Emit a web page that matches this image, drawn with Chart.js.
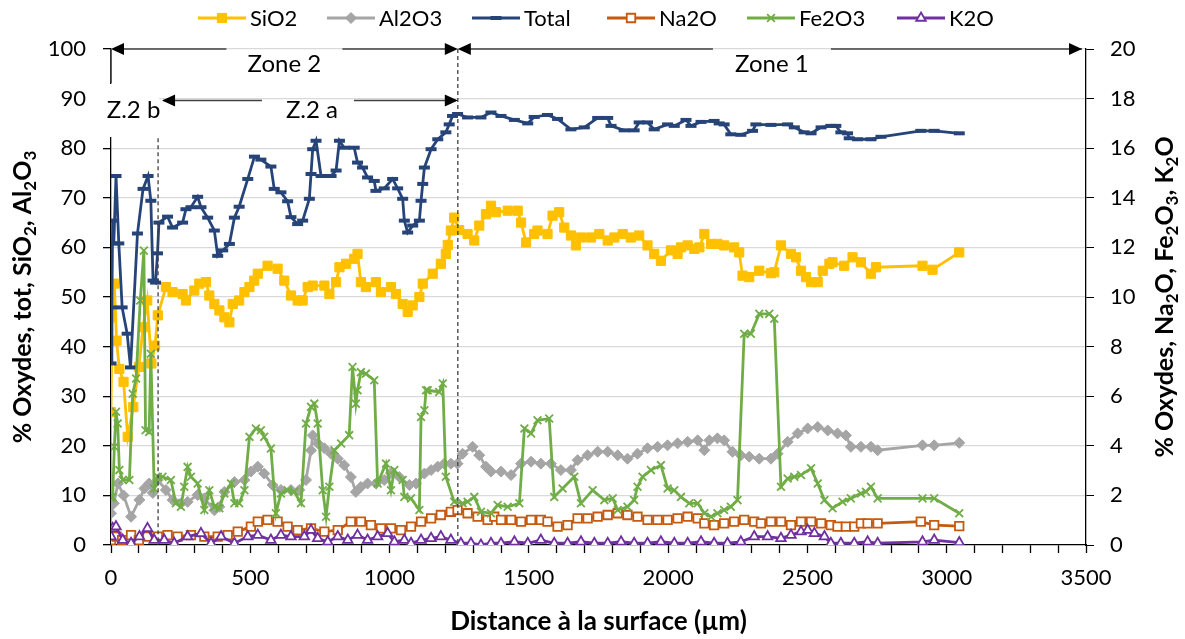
<!DOCTYPE html>
<html>
<head>
<meta charset="utf-8">
<title>Profils d'oxydes</title>
<script src="https://cdn.jsdelivr.net/npm/chart.js@4.4.1/dist/chart.umd.min.js"></script>
<style>
  html, body { margin: 0; padding: 0; background: #fff; }
  #wrap { width: 1185px; height: 639px; position: relative; }
</style>
</head>
<body>
<div id="wrap"><canvas id="chart"></canvas></div>
<script>
// distance (µm), % oxyde
var sio2 = [[0,26.8],[4,45.9],[12,52.7],[20,41.2],[30,35.5],[45,32.9],[60,21.8],[80,27.8],[100,35.9],[115,43.9],[130,49.3],[145,36.6],[158,40.2],[168,46.3],[197,52.0],[221,51.0],[257,50.6],[269,49.3],[299,51.3],[317,52.7],[341,53.0],[353,50.3],[371,48.6],[389,47.3],[407,45.9],[425,44.9],[437,48.6],[460,49.3],[479,51.0],[497,52.0],[514,53.3],[527,54.7],[562,56.3],[598,55.7],[622,53.3],[646,50.3],[670,49.3],[688,49.3],[706,52.0],[724,52.3],[766,52.3],[784,50.6],[808,53.0],[820,56.0],[844,56.7],[873,57.7],[885,58.7],[897,53.0],[915,52.0],[951,53.0],[969,51.0],[1005,52.0],[1023,50.6],[1047,48.6],[1065,47.0],[1083,48.3],[1107,50.0],[1119,52.7],[1155,54.7],[1184,56.7],[1202,58.7],[1209,60.5],[1220,63.4],[1232,66.0],[1250,63.5],[1280,62.7],[1304,61.4],[1322,64.4],[1346,66.7],[1364,68.4],[1382,67.1],[1424,67.4],[1460,67.4],[1472,65.0],[1490,61.0],[1519,62.7],[1531,63.4],[1567,62.7],[1585,66.4],[1609,67.1],[1627,64.0],[1651,62.4],[1669,60.4],[1687,62.0],[1723,62.0],[1753,62.7],[1783,61.4],[1807,62.0],[1837,62.7],[1866,62.0],[1896,62.4],[1926,60.4],[1950,58.7],[1974,57.3],[2010,59.4],[2034,58.7],[2046,60.0],[2070,60.4],[2094,59.7],[2112,60.0],[2130,62.7],[2154,60.7],[2177,60.7],[2201,60.4],[2237,60.0],[2255,59.0],[2267,54.3],[2291,54.0],[2327,55.3],[2369,54.8],[2381,55.0],[2405,60.4],[2441,58.7],[2459,58.0],[2477,55.3],[2495,54.0],[2513,53.0],[2537,53.0],[2555,55.3],[2579,56.7],[2590,57.0],[2632,56.3],[2662,58.0],[2692,57.0],[2728,54.7],[2746,56.0],[2913,56.3],[2949,55.5],[3045,59.0]];

var al2o3 = [[0,6.4],[10,8.4],[25,12.4],[45,10.0],[72,5.7],[102,9.1],[120,11.4],[137,12.4],[150,10.5],[168,13.1],[197,11.1],[221,9.1],[251,8.4],[275,8.7],[311,10.1],[335,9.4],[371,7.0],[389,7.7],[407,10.7],[443,12.7],[479,13.1],[502,14.8],[527,15.8],[550,14.4],[580,12.1],[610,11.1],[646,11.1],[676,11.1],[700,13.1],[718,19.1],[724,22.1],[742,20.5],[766,19.5],[790,18.4],[814,17.4],[837,16.1],[861,13.7],[879,10.7],[897,11.7],[921,12.4],[951,12.4],[981,13.1],[1005,14.5],[1035,13.7],[1071,12.1],[1095,12.4],[1125,14.4],[1149,15.1],[1173,15.8],[1196,16.4],[1220,16.4],[1244,16.4],[1262,18.4],[1298,19.8],[1322,18.1],[1346,15.8],[1364,14.8],[1400,14.8],[1436,14.1],[1472,16.4],[1508,16.8],[1543,16.4],[1579,16.4],[1615,15.1],[1651,15.1],[1675,17.1],[1711,18.1],[1747,18.8],[1783,18.8],[1819,18.1],[1854,17.4],[1890,18.4],[1926,19.5],[1962,19.8],[1998,20.1],[2034,20.5],[2070,20.8],[2106,21.1],[2130,19.1],[2148,21.1],[2177,21.5],[2201,21.1],[2231,18.8],[2261,18.1],[2291,17.8],[2327,17.4],[2369,17.4],[2393,18.4],[2429,20.8],[2465,22.5],[2501,23.5],[2537,23.8],[2573,23.1],[2608,22.5],[2638,22.1],[2656,19.8],[2692,19.8],[2728,19.8],[2752,19.1],[2913,20.1],[2955,20.1],[3045,20.6]];

var total = [[0,36.6],[3,47.9],[6,65.4],[10,60.8],[18,74.4],[28,60.8],[40,47.9],[58,42.6],[70,35.8],[95,62.8],[115,71.8],[133,74.4],[143,69.4],[151,53.3],[160,52.9],[167,58.8],[172,65.0],[203,66.2],[221,64.0],[257,65.0],[269,67.7],[287,68.1],[311,70.2],[323,68.1],[347,66.0],[371,63.4],[383,58.3],[401,59.4],[425,60.7],[443,66.0],[460,68.2],[491,73.8],[515,78.3],[538,77.7],[574,76.3],[586,71.8],[610,71.1],[634,69.3],[646,66.1],[670,64.7],[688,65.4],[712,69.8],[718,74.8],[724,79.8],[736,81.5],[754,74.4],[790,74.4],[808,75.5],[820,81.5],[837,80.1],[873,80.1],[885,77.1],[903,76.1],[921,74.1],[945,73.4],[951,71.4],[981,71.9],[1011,73.8],[1029,71.9],[1047,69.8],[1053,65.4],[1065,63.0],[1083,64.4],[1107,65.4],[1113,69.4],[1119,72.8],[1125,76.1],[1149,79.8],[1173,81.8],[1202,83.2],[1214,84.8],[1226,86.5],[1244,86.9],[1280,86.2],[1328,86.2],[1364,87.2],[1400,86.5],[1448,85.7],[1496,85.0],[1519,86.3],[1567,86.7],[1603,85.9],[1651,83.8],[1699,84.2],[1747,86.1],[1783,86.1],[1795,84.5],[1842,83.6],[1878,83.6],[1896,85.2],[1926,85.2],[1950,83.8],[1998,84.8],[2022,84.5],[2064,85.7],[2082,84.5],[2118,85.3],[2165,85.5],[2183,85.0],[2201,84.8],[2225,82.8],[2261,82.7],[2303,83.5],[2315,84.8],[2369,84.7],[2429,84.8],[2453,84.2],[2488,83.2],[2513,83.0],[2549,84.2],[2584,84.5],[2602,84.5],[2620,83.2],[2644,83.0],[2650,82.0],[2680,81.8],[2728,81.8],[2764,82.3],[2907,83.5],[2955,83.5],[3045,83.0]];

var na2o = [[0,0.20],[20,0.34],[40,0.20],[72,0.40],[100,0.20],[131,0.34],[168,0.34],[203,0.40],[239,0.34],[287,0.40],[335,0.34],[383,0.34],[419,0.40],[455,0.54],[502,0.74],[527,0.94],[562,1.01],[598,0.94],[634,0.74],[670,0.60],[718,0.67],[766,0.54],[814,0.60],[861,0.94],[897,0.94],[933,0.80],[969,0.67],[1005,0.67],[1041,0.60],[1077,0.74],[1113,0.94],[1149,1.07],[1184,1.21],[1220,1.34],[1244,1.41],[1280,1.28],[1316,1.14],[1352,1.01],[1376,1.14],[1400,1.01],[1436,1.01],[1472,0.94],[1508,1.01],[1543,1.01],[1567,0.94],[1603,0.74],[1639,0.80],[1675,1.07],[1711,1.07],[1747,1.14],[1783,1.21],[1819,1.28],[1854,1.21],[1890,1.14],[1926,1.01],[1962,1.01],[1998,1.01],[2034,1.07],[2070,1.14],[2106,1.07],[2130,0.87],[2165,0.80],[2201,0.87],[2237,0.94],[2273,1.01],[2309,0.94],[2333,0.87],[2369,0.94],[2405,0.94],[2441,0.80],[2477,0.94],[2513,0.94],[2549,0.87],[2584,0.80],[2608,0.74],[2638,0.74],[2668,0.74],[2692,0.87],[2716,0.87],[2752,0.87],[2907,0.94],[2955,0.80],[3045,0.76]];

var fe2o3 = [[0,1.90],[6,1.94],[12,3.96],[18,5.37],[24,4.90],[30,3.02],[42,2.62],[66,2.62],[78,6.10],[90,6.71],[105,9.86],[118,11.87],[124,4.63],[137,4.56],[143,7.71],[155,2.28],[168,2.75],[185,2.75],[215,2.62],[233,1.68],[251,1.54],[263,2.35],[275,3.15],[287,2.75],[311,2.48],[335,1.41],[353,2.21],[371,1.54],[389,1.48],[407,2.08],[431,2.48],[443,1.68],[460,1.68],[479,2.21],[497,4.36],[520,4.70],[538,4.63],[550,4.36],[574,3.89],[592,1.28],[610,2.08],[634,2.21],[658,2.15],[682,1.68],[700,4.90],[718,5.57],[730,5.70],[742,4.90],[760,2.21],[772,1.14],[784,2.35],[802,3.82],[826,4.09],[855,4.43],[867,7.18],[879,5.70],[885,6.24],[897,6.97],[915,6.91],[945,6.64],[957,2.48],[987,3.29],[1005,2.21],[1017,3.02],[1047,2.62],[1053,1.94],[1077,1.88],[1107,1.41],[1113,5.16],[1125,5.43],[1131,6.24],[1137,6.24],[1178,6.17],[1191,6.51],[1202,2.75],[1232,1.74],[1262,1.68],[1280,1.74],[1304,1.94],[1328,1.34],[1364,1.28],[1388,1.61],[1424,1.54],[1466,1.68],[1484,4.70],[1508,4.50],[1531,5.03],[1573,5.10],[1591,1.94],[1621,2.28],[1663,2.75],[1687,1.68],[1729,2.21],[1771,1.81],[1801,1.88],[1819,1.41],[1854,1.54],[1878,1.81],[1890,2.35],[1908,2.75],[1938,3.02],[1974,3.22],[1998,2.28],[2022,2.21],[2046,1.94],[2076,1.68],[2106,1.68],[2130,1.28],[2154,1.14],[2177,1.28],[2201,1.41],[2225,1.54],[2249,1.81],[2273,8.52],[2297,8.52],[2327,9.32],[2363,9.32],[2381,9.12],[2405,2.35],[2429,2.68],[2453,2.75],[2477,2.82],[2513,3.09],[2537,2.48],[2561,1.81],[2590,1.48],[2626,1.74],[2656,1.88],[2692,2.08],[2710,2.15],[2728,2.35],[2752,1.88],[2913,1.88],[2955,1.88],[3045,1.28]];

var k2o = [[0,0.34],[6,0.67],[18,0.74],[42,0.20],[72,0.07],[102,0.34],[131,0.67],[155,0.20],[191,0.20],[227,0.07],[275,0.34],[323,0.47],[359,0.07],[395,0.34],[443,0.07],[491,0.34],[527,0.40],[574,0.20],[610,0.40],[646,0.34],[694,0.34],[718,0.60],[742,0.27],[778,0.13],[814,0.34],[850,0.20],[885,0.40],[921,0.20],[957,0.34],[993,0.47],[1017,0.13],[1053,0.20],[1077,0.07],[1113,0.20],[1149,0.27],[1184,0.34],[1220,0.20],[1256,0.07],[1292,0.07],[1328,0.00],[1364,0.07],[1400,0.07],[1448,0.13],[1496,0.07],[1543,0.20],[1591,0.07],[1639,0.07],[1687,0.13],[1735,0.07],[1783,0.07],[1831,0.13],[1878,0.07],[1926,0.07],[1974,0.13],[2022,0.07],[2070,0.07],[2118,0.13],[2165,0.07],[2213,0.07],[2261,0.13],[2309,0.34],[2357,0.34],[2405,0.27],[2441,0.40],[2477,0.54],[2501,0.60],[2525,0.47],[2561,0.34],[2584,0.07],[2620,0.07],[2668,0.07],[2716,0.13],[2752,0.07],[2913,0.13],[2955,0.20],[3045,0.10]];

// zone limits (µm) and axis ranges
var zoneBounds = [169, 1245];
var xRange = [0, 3500];
var leftRange = [0, 100];
var rightRange = [0, 20];

var FONT = 'Lato, "Open Sans", sans-serif';

var series = [
    { name: 'SiO2',  data: sio2,  axis: 'y',  color: '#FFC000', point: 'rect',     radius: 6.5, fill: '#FFC000', bw: 1,   order: 5 },
    { name: 'Al2O3', data: al2o3, axis: 'y',  color: '#A5A5A5', point: 'rectRot',  radius: 5.5, fill: '#A5A5A5', bw: 1,   order: 4 },
    { name: 'Total', data: total, axis: 'y',  color: '#264478', point: 'line',     radius: 5.5, fill: '#264478', bw: 4,   order: 3 },
    { name: 'Na2O',  data: na2o,  axis: 'y2', color: '#C55A11', point: 'rect',     radius: 6,   fill: '#ffffff', bw: 1.8, order: 2 },
    { name: 'Fe2O3', data: fe2o3, axis: 'y2', color: '#70AD47', point: 'crossRot', radius: 5.5, fill: '#70AD47', bw: 1.8, order: 1 },
    { name: 'K2O',   data: k2o,   axis: 'y2', color: '#7030A0', point: 'triangle', radius: 5.5, fill: '#ffffff', bw: 1.8, order: 0 }
];

function toPoints(pairs) {
    return pairs.map(function(p) { return { x: p[0], y: p[1] }; });
}

function arrowHead(ctx, tipX, y, dir) {
    ctx.beginPath();
    ctx.moveTo(tipX, y);
    ctx.lineTo(tipX - dir * 13, y - 6);
    ctx.lineTo(tipX - dir * 13, y + 6);
    ctx.closePath();
    ctx.fill();
}

function hLine(ctx, x1, x2, y) {
    ctx.beginPath();
    ctx.moveTo(x1, y);
    ctx.lineTo(x2, y);
    ctx.stroke();
}

// text with subscripts, parts = [[text, isSub], ...]
function richText(ctx, parts, x, y, size, rotate) {
    var big = 'bold ' + size + 'px ' + FONT;
    var small = 'bold ' + Math.round(size * 0.66) + 'px ' + FONT;
    ctx.save();
    ctx.translate(x, y);
    if (rotate) ctx.rotate(-Math.PI / 2);
    var w = 0;
    parts.forEach(function(p) { ctx.font = p[1] ? small : big; w += ctx.measureText(p[0]).width; });
    var cx = -w / 2;
    ctx.textAlign = 'left';
    ctx.textBaseline = 'alphabetic';
    ctx.fillStyle = '#000';
    parts.forEach(function(p) {
        ctx.font = p[1] ? small : big;
        ctx.fillText(p[0], cx, p[1] ? size * 0.55 : size * 0.36);
        cx += ctx.measureText(p[0]).width;
    });
    ctx.restore();
}

function legendMarker(ctx, s, x, y) {
    var r = s.radius;
    ctx.save();
    ctx.fillStyle = s.fill;
    ctx.strokeStyle = s.color;
    ctx.lineWidth = s.bw;
    ctx.beginPath();
    if (s.point === 'rect') {
        var h = r * Math.SQRT1_2;
        ctx.rect(x - h, y - h, 2 * h, 2 * h);
        ctx.fill(); ctx.stroke();
    } else if (s.point === 'rectRot') {
        ctx.moveTo(x, y - r); ctx.lineTo(x + r, y); ctx.lineTo(x, y + r); ctx.lineTo(x - r, y); ctx.closePath();
        ctx.fill(); ctx.stroke();
    } else if (s.point === 'line') {
        ctx.moveTo(x - r, y); ctx.lineTo(x + r, y);
        ctx.stroke();
    } else if (s.point === 'crossRot') {
        var d = r * Math.SQRT1_2;
        ctx.moveTo(x - d, y - d); ctx.lineTo(x + d, y + d);
        ctx.moveTo(x - d, y + d); ctx.lineTo(x + d, y - d);
        ctx.stroke();
    } else if (s.point === 'triangle') {
        ctx.moveTo(x, y - r); ctx.lineTo(x + r * 0.87, y + r * 0.5); ctx.lineTo(x - r * 0.87, y + r * 0.5); ctx.closePath();
        ctx.fill(); ctx.stroke();
    }
    ctx.restore();
}

var decorations = {
    id: 'decorations',
    afterDraw: function(chart) {
        var ctx = chart.ctx;
        var xs = chart.scales.x, ys = chart.scales.y;
        var area = chart.chartArea;
        var xb = xs.getPixelForValue(zoneBounds[0]);
        var xa = xs.getPixelForValue(zoneBounds[1]);
        var yTop = ys.getPixelForValue(100);
        var yZa = ys.getPixelForValue(89.6);

        ctx.save();

        // white box of the "Z.2 b" label over the axis
        ctx.fillStyle = '#fff';
        ctx.fillRect(area.left - 9, yTop + 35, xb - area.left + 10, 53);

        // dashed zone limits
        ctx.strokeStyle = '#404040';
        ctx.lineWidth = 1.3;
        ctx.setLineDash([4, 3]);
        ctx.beginPath();
        ctx.moveTo(xb, ys.getPixelForValue(82));
        ctx.lineTo(xb, area.bottom);
        ctx.moveTo(xa, yTop);
        ctx.lineTo(xa, area.bottom);
        ctx.stroke();
        ctx.setLineDash([]);

        // zone arrows
        ctx.strokeStyle = '#404040';
        ctx.fillStyle = '#000';
        ctx.lineWidth = 1.5;
        var c2 = (area.left + xa) / 2, c1 = (xa + area.right) / 2, ca = (xb + xa) / 2;
        hLine(ctx, area.left + 2, c2 - 58, yTop);
        hLine(ctx, c2 + 58, xa - 2, yTop);
        hLine(ctx, xa + 2, c1 - 59, yTop);
        hLine(ctx, c1 + 59, area.right - 4, yTop);
        arrowHead(ctx, area.left, yTop, -1);
        arrowHead(ctx, xa, yTop, 1);
        arrowHead(ctx, xa, yTop, -1);
        arrowHead(ctx, area.right - 4, yTop, 1);
        // short vertical mark at the surface
        ctx.beginPath();
        ctx.moveTo(area.left, yTop);
        ctx.lineTo(area.left, yTop + 34);
        ctx.stroke();

        hLine(ctx, xb + 5, ca - 46, yZa);
        hLine(ctx, ca + 46, xa - 2, yZa);
        arrowHead(ctx, xb + 4, yZa, -1);
        arrowHead(ctx, xa, yZa, 1);

        ctx.fillStyle = '#000';
        ctx.font = '24px ' + FONT;
        ctx.textAlign = 'center';
        ctx.textBaseline = 'middle';
        ctx.fillText('Zone 2', c2, yTop + 15);
        ctx.fillText('Zone 1', c1, yTop + 15);
        ctx.fillText('Z.2 a', ca + 4, yZa + 10);
        ctx.fillText('Z.2 b', (area.left + xb) / 2 - 1, yZa + 10);

        // legend
        var starts = [198, 327, 472, 607, 747, 897];
        var ly = 18;
        series.forEach(function(s, i) {
            var x0 = starts[i];
            ctx.strokeStyle = s.color;
            ctx.lineWidth = 2.8;
            hLine(ctx, x0, x0 + 48, ly);
            legendMarker(ctx, s, x0 + 24, ly);
            ctx.fillStyle = '#000';
            ctx.font = '22px ' + FONT;
            ctx.textAlign = 'left';
            ctx.textBaseline = 'middle';
            ctx.fillText(s.name, x0 + 52, ly + 1);
        });

        // axis titles
        var midY = (area.top + area.bottom) / 2;
        richText(ctx, [['Distance à la surface (µm)', 0]], (area.left + area.right) / 2, 621, 26, false);
        richText(ctx, [['% Oxydes, tot, SiO', 0], ['2', 1], [', Al', 0], ['2', 1], ['O', 0], ['3', 1]], 22, midY, 25, true);
        richText(ctx, [['% Oxydes, Na', 0], ['2', 1], ['O, Fe', 0], ['2', 1], ['O', 0], ['3', 1], [', K', 0], ['2', 1], ['O', 0]], 1164, midY, 25, true);

        ctx.restore();
    }
};

var datasets = series.map(function(s) {
    return {
        label: s.name,
        data: toPoints(s.data),
        yAxisID: s.axis,
        borderColor: s.color,
        backgroundColor: s.fill,
        borderWidth: 2.8,
        pointStyle: s.point,
        pointRadius: s.radius,
        pointHoverRadius: s.radius,
        pointBorderWidth: s.bw,
        pointBackgroundColor: s.fill,
        pointBorderColor: s.color,
        tension: 0,
        fill: false,
        order: s.order
    };
});

var tickFont = { family: FONT, size: 22 };

new Chart(document.getElementById('chart'), {
    type: 'line',
    data: { datasets: datasets },
    options: {
        responsive: true,
        maintainAspectRatio: false,
        animation: false,
        layout: { padding: { top: 49, left: 0, right: 0, bottom: 0 } },
        plugins: {
            legend: { display: false },
            tooltip: { enabled: false }
        },
        scales: {
            x: {
                type: 'linear',
                min: xRange[0],
                max: xRange[1],
                afterFit: function(scale) { scale.height = 94; },
                border: { color: '#000', width: 1.3 },
                grid: { drawOnChartArea: false, tickColor: '#000', tickLength: 8, tickWidth: 1.3 },
                ticks: {
                    stepSize: 100,
                    autoSkip: false,
                    maxRotation: 0,
                    padding: 12,
                    color: '#000',
                    font: tickFont,
                    callback: function(v) { return v % 500 === 0 ? v : ''; }
                }
            },
            y: {
                position: 'left',
                min: leftRange[0],
                max: leftRange[1],
                afterFit: function(scale) { scale.width = 111; },
                border: { color: '#000', width: 1.3 },
                grid: {
                    color: function(c) { return c.tick && c.tick.value === 0 ? 'rgba(0,0,0,0)' : '#d9d9d9'; },
                    lineWidth: 1.3,
                    tickColor: '#000',
                    tickLength: 8
                },
                ticks: { stepSize: 10, padding: 17, color: '#000', font: tickFont }
            },
            y2: {
                position: 'right',
                min: rightRange[0],
                max: rightRange[1],
                afterFit: function(scale) { scale.width = 99; },
                border: { color: '#000', width: 1.3 },
                grid: { drawOnChartArea: false, tickColor: '#000', tickLength: 8 },
                ticks: { stepSize: 2, padding: 16, color: '#000', font: tickFont }
            }
        }
    },
    plugins: [decorations]
});
</script>
</body>
</html>
